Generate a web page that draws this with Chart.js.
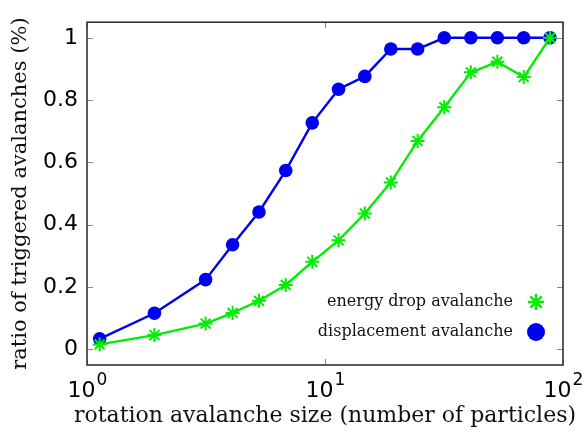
<!DOCTYPE html>
<html>
<head>
<meta charset="utf-8">
<script src="https://cdn.jsdelivr.net/npm/chart.js@4/dist/chart.umd.min.js"></script>
<style>
  html, body { margin: 0; padding: 0; background: #fff; }
  #wrap { width: 587px; height: 433px; }
</style>
</head>
<body>
<div id="wrap"><canvas id="chart" width="587" height="433"></canvas></div>
<script>
// avalanche size bins (number of particles)
const sizes = [1.13, 1.92, 3.15, 4.09, 5.28, 6.84, 8.84, 11.4, 14.7, 18.9, 24.5, 31.7, 41.0, 53.0, 68.4, 88.2];
const energyDrop = [0.016, 0.046, 0.083, 0.117, 0.156, 0.207, 0.281, 0.350, 0.436, 0.536, 0.669, 0.777, 0.889, 0.923, 0.874, 1.0];
const displacement = [0.034, 0.116, 0.224, 0.336, 0.441, 0.574, 0.727, 0.835, 0.876, 0.964, 0.964, 1.0, 1.0, 1.0, 1.0, 1.0];
const xTicks = [1, 10, 100];
const yTicks = [0, 0.2, 0.4, 0.6, 0.8, 1];
const xTitle = 'rotation avalanche size (number of particles)';

const GREEN = '#00ee00';
const BLUE = '#0000f0';
const SERIF = '"DejaVu Serif", serif';
const SANS = '"DejaVu Sans", sans-serif';

const toPoints = ys => ys.map((y, i) => ({ x: sizes[i], y: y }));

// frame, inward tick marks, 10^n labels, x title and the legend box
const framePlugin = {
    id: 'frame',
    afterDraw(chart) {
        const ctx = chart.ctx;
        const a = chart.chartArea;
        const xs = chart.scales.x, ys = chart.scales.y;
        ctx.save();

        ctx.strokeStyle = '#888';
        ctx.lineWidth = 1;
        ctx.beginPath();
        yTicks.forEach(v => {
            const p = Math.round(ys.getPixelForValue(v)) + 0.5;
            ctx.moveTo(a.left, p); ctx.lineTo(a.left + 6, p);
            ctx.moveTo(a.right, p); ctx.lineTo(a.right - 6, p);
        });
        xTicks.forEach(v => {
            const p = Math.round(xs.getPixelForValue(v)) + 0.5;
            ctx.moveTo(p, a.bottom); ctx.lineTo(p, a.bottom - 6);
            ctx.moveTo(p, a.top); ctx.lineTo(p, a.top + 6);
        });
        ctx.stroke();

        ctx.strokeStyle = '#333';
        ctx.lineWidth = 1.6;
        ctx.strokeRect(a.left, a.top, a.right - a.left, a.bottom - a.top);

        // x tick labels as 10 with a raised exponent
        ctx.fillStyle = '#000';
        ctx.textBaseline = 'alphabetic';
        ctx.textAlign = 'left';
        xTicks.forEach(v => {
            const exp = String(Math.round(Math.log10(v)));
            ctx.font = '22px ' + SANS;
            const wb = ctx.measureText('10').width;
            ctx.font = '17px ' + SANS;
            const we = ctx.measureText(exp).width;
            const x0 = xs.getPixelForValue(v) - (wb + we) / 2;
            ctx.font = '22px ' + SANS;
            ctx.fillText('10', x0, a.bottom + 32);
            ctx.font = '17px ' + SANS;
            ctx.fillText(exp, x0 + wb + 1, a.bottom + 20);
        });

        // x axis title, allowed to run wider than the plot box
        ctx.font = '22px ' + SERIF;
        ctx.fillStyle = '#111';
        ctx.textAlign = 'center';
        ctx.textBaseline = 'middle';
        ctx.fillText(xTitle, (a.left + a.right) / 2, a.bottom + 51);

        // legend: label right-aligned, marker on the right
        chart.data.datasets.forEach((ds, i) => {
            const y = a.bottom - 63 + i * 30;
            const mx = a.right - 27;
            ctx.font = '16px ' + SERIF;
            ctx.textAlign = 'right';
            ctx.textBaseline = 'middle';
            ctx.fillStyle = '#111';
            ctx.fillText(ds.label, a.right - 50, y);
            if (ds.pointStyle === 'star') {
                const r = 8;
                ctx.strokeStyle = ds.borderColor;
                ctx.lineWidth = 2.5;
                ctx.beginPath();
                for (let k = 0; k < 4; k++) {
                    const t = k * Math.PI / 4;
                    ctx.moveTo(mx - r * Math.cos(t), y - r * Math.sin(t));
                    ctx.lineTo(mx + r * Math.cos(t), y + r * Math.sin(t));
                }
                ctx.stroke();
            } else {
                ctx.fillStyle = ds.backgroundColor;
                ctx.beginPath();
                ctx.arc(mx, y, 9, 0, Math.PI * 2);
                ctx.fill();
            }
        });
        ctx.restore();
    }
};

new Chart(document.getElementById('chart'), {
    type: 'line',
    data: {
        datasets: [
            {
                label: 'energy drop avalanche',
                data: toPoints(energyDrop),
                borderColor: GREEN,
                backgroundColor: GREEN,
                borderWidth: 2.4,
                pointStyle: 'star',
                pointRadius: 7,
                pointBorderWidth: 2,
                tension: 0
            },
            {
                label: 'displacement avalanche',
                data: toPoints(displacement),
                borderColor: BLUE,
                backgroundColor: BLUE,
                borderWidth: 2.4,
                pointStyle: 'circle',
                pointRadius: 6.8,
                pointBorderWidth: 0,
                tension: 0
            }
        ]
    },
    options: {
        responsive: false,
        animation: false,
        devicePixelRatio: 1,
        layout: { padding: { top: 10, right: 24, left: 0, bottom: 0 } },
        plugins: {
            legend: { display: false },
            tooltip: { enabled: false }
        },
        scales: {
            x: {
                type: 'logarithmic',
                min: 1,
                max: 100,
                afterBuildTicks: s => { s.ticks = xTicks.map(v => ({ value: v })); },
                afterFit: s => { s.height = 68; },
                grid: { display: false },
                border: { display: false },
                ticks: { display: false }
            },
            y: {
                min: -0.05,
                max: 1.05,
                afterBuildTicks: s => { s.ticks = yTicks.map(v => ({ value: v })); },
                afterFit: s => { s.width = 87; },
                grid: { display: false, drawTicks: false },
                border: { display: false },
                ticks: {
                    color: '#000',
                    padding: 9,
                    font: { family: SANS, size: 22 },
                    callback: v => String(+v.toFixed(1))
                },
                title: {
                    display: true,
                    text: 'ratio of triggered avalanches (%)',
                    color: '#111',
                    font: { family: SERIF, size: 21 },
                    padding: { top: 8, bottom: 0 }
                }
            }
        }
    },
    plugins: [framePlugin]
});
</script>
</body>
</html>
